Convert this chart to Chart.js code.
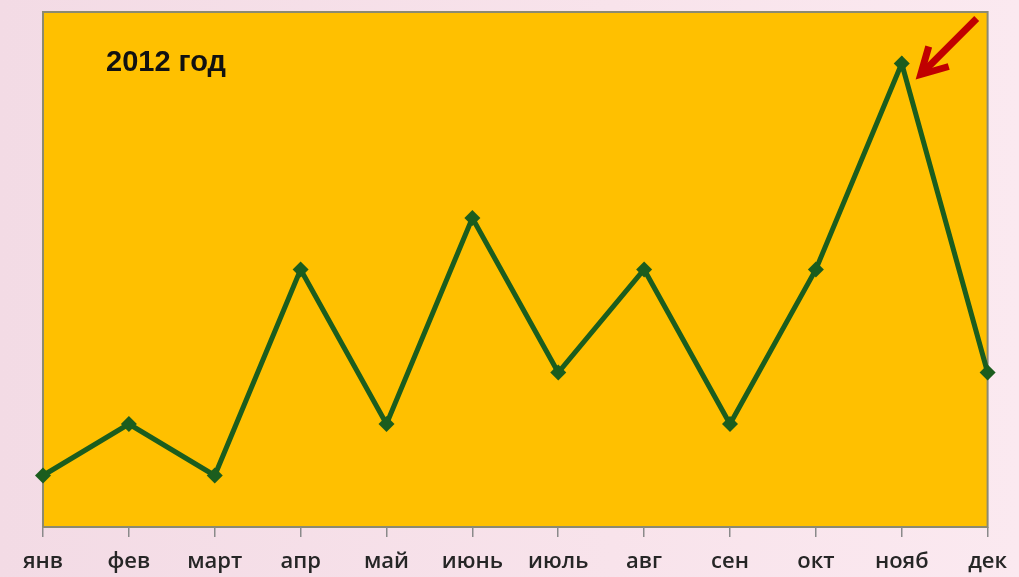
<!DOCTYPE html>
<html>
<head>
<meta charset="utf-8">
<script src="https://cdn.jsdelivr.net/npm/chart.js@4/dist/chart.umd.min.js"></script>
<style>
  html, body { margin: 0; padding: 0; }
  body {
    width: 1019px; height: 577px; overflow: hidden;
    background: linear-gradient(to right, #f3dbe5 0%, #f8e3eb 60%, #fbe9f0 100%);
  }
  #wrap { position: relative; width: 1019px; height: 577px; }
</style>
</head>
<body>
<div id="wrap"><canvas id="salesChart"></canvas></div>
<script>
const months = ['янв', 'фев', 'март', 'апр', 'май', 'июнь', 'июль', 'авг', 'сен', 'окт', 'нояб', 'дек'];
const values = [1, 2, 1, 5, 2, 6, 3, 5, 2, 5, 9, 3];
const yearLabel = '2012 год';
const peakIndex = 10; // the month the arrow points at

// orange plot box with a thin grey frame, plus the year caption
const plotBox = {
    id: 'plotBox',
    beforeDraw(chart) {
        const { ctx, chartArea: a } = chart;
        ctx.save();
        ctx.fillStyle = '#ffc000';
        ctx.fillRect(a.left, a.top, a.right - a.left, a.bottom - a.top);
        ctx.strokeStyle = '#8c8a70';
        ctx.lineWidth = 2;
        ctx.strokeRect(a.left, a.top, a.right - a.left, a.bottom - a.top);
        ctx.fillStyle = '#111';
        ctx.font = 'bold 29px "Liberation Sans", Arial, sans-serif';
        ctx.textBaseline = 'middle';
        ctx.fillText(yearLabel, a.left + 63, a.top + 51);
        ctx.restore();
    }
};

// red arrow pointing down-left at the peak
const peakArrow = {
    id: 'peakArrow',
    afterDatasetsDraw(chart) {
        const pt = chart.getDatasetMeta(0).data[peakIndex];
        if (!pt) return;
        const { ctx } = chart;
        const tipX = pt.x + 17, tipY = pt.y + 13;
        const tailX = pt.x + 75, tailY = pt.y - 45;
        ctx.save();
        ctx.strokeStyle = '#c00000';
        ctx.lineWidth = 7;
        ctx.lineCap = 'butt';
        ctx.lineJoin = 'miter';
        ctx.beginPath();
        ctx.moveTo(tailX, tailY);
        ctx.lineTo(tipX + 4, tipY - 4);
        ctx.stroke();
        ctx.beginPath();
        ctx.moveTo(tipX + 10, tipY - 30);
        ctx.lineTo(tipX + 2, tipY - 2);
        ctx.lineTo(tipX + 30, tipY - 10);
        ctx.stroke();
        ctx.restore();
    }
};

new Chart(document.getElementById('salesChart'), {
    type: 'line',
    data: {
        labels: months,
        datasets: [{
            data: values,
            borderColor: '#1b5d1e',
            backgroundColor: '#1b5d1e',
            borderWidth: 5,
            pointStyle: 'rectRot',
            pointRadius: 8,
            pointHoverRadius: 8,
            pointBorderWidth: 0,
            tension: 0,
            clip: false
        }]
    },
    options: {
        responsive: true,
        maintainAspectRatio: false,
        animation: false,
        layout: { padding: { left: 43, right: 30, top: 12, bottom: 0 } },
        plugins: {
            legend: { display: false },
            tooltip: { enabled: false }
        },
        scales: {
            y: { display: false, min: 0, max: 10 },
            x: {
                offset: false,
                afterFit(scale) { scale.height = 50; },
                border: { display: false },
                grid: {
                    drawOnChartArea: false,
                    drawTicks: true,
                    tickLength: 10,
                    color: '#8a8a8a',
                    lineWidth: 1.5
                },
                ticks: {
                    color: '#262626',
                    padding: 12,
                    maxRotation: 0,
                    autoSkip: false,
                    font: { family: '"Open Sans", sans-serif', size: 22, weight: '600' }
                }
            }
        }
    },
    plugins: [plotBox, peakArrow]
});
</script>
</body>
</html>
